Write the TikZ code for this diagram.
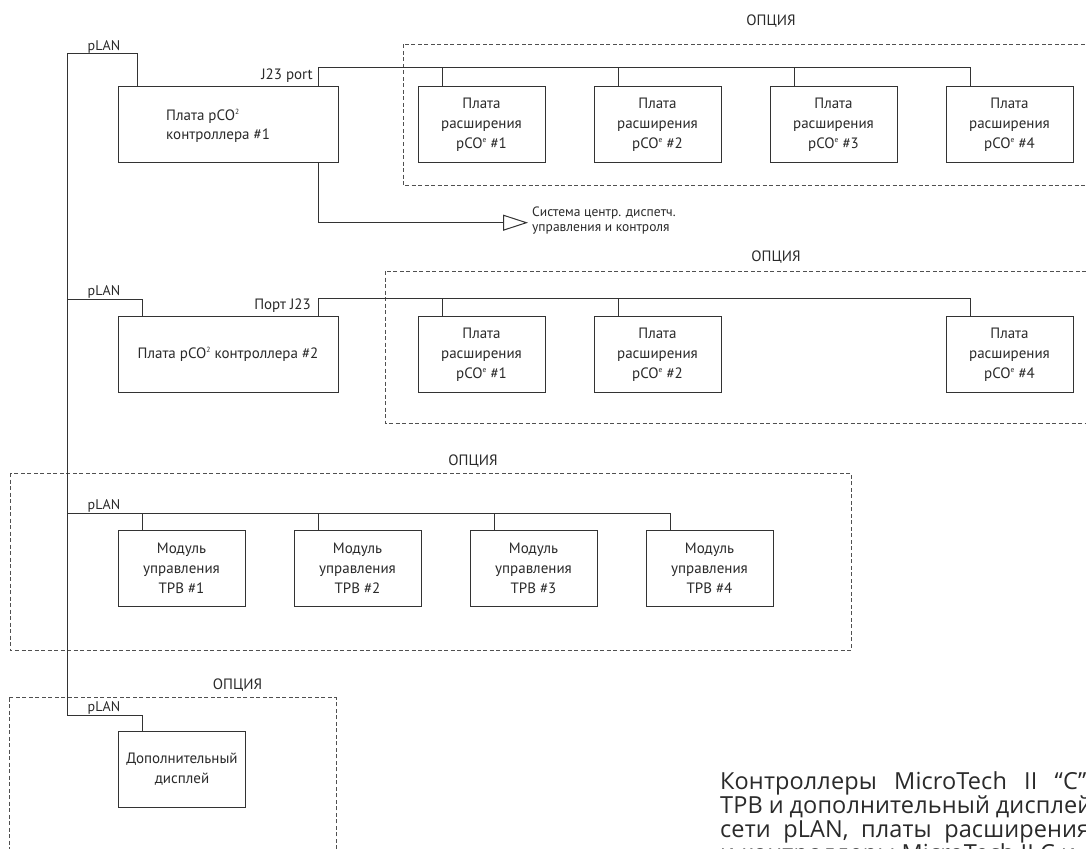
\documentclass[tikz,border=0pt]{standalone}
\usepackage{fontspec}
\setmainfont{PT Sans}
\newfontfamily\parafont[LetterSpace=0.5]{Open Sans}
\usetikzlibrary{arrows.meta}
\definecolor{ink}{HTML}{333333}
\definecolor{txt}{HTML}{2A2A2A}
\definecolor{dash}{HTML}{505050}
\newcommand{\sups}[1]{\raisebox{0.8ex}{\fontsize{7.5}{7.5}\selectfont #1}}
\begin{document}
\begin{tikzpicture}[x=1pt,y=-1pt,
  every node/.style={text=txt},
  boxtext/.style={font=\fontsize{15}{20}\selectfont},
  box/.style={draw=ink, line width=1pt, minimum width=127pt, minimum height=76pt, inner sep=0pt, align=center, boxtext},
  ctrl/.style={box, minimum width=220pt},
  wire/.style={draw=ink, line width=1pt},
  opt/.style={draw=dash, line width=0.8pt, dash pattern=on 4pt off 2.5pt},
  lbl/.style={inner sep=0pt, font=\fontsize{15}{18}\selectfont},
  plan/.style={inner sep=0pt, font=\fontsize{14}{16}\selectfont, anchor=base},
  optlbl/.style={inner sep=0pt, font=\fontsize{15}{16}\selectfont, anchor=base}
]
\useasboundingbox (0,0) rectangle (1086,848);
\clip (0,0) rectangle (1086,848);
\fill[white] (0,0) rectangle (1086,848);

% option frames
\draw[opt] (403,44.5) rectangle (1110,185.3);
\draw[opt] (385,271) rectangle (1110,423);
\draw[opt] (10,473) rectangle (851,650);
\draw[opt] (9,697.7) rectangle (336,870);
\node[optlbl] (o1) at (771,26) {ОПЦИЯ};
\node[optlbl] (o2) at (776,261.5) {ОПЦИЯ};
\node[optlbl] (o3) at (473,465) {ОПЦИЯ};
\node[optlbl] (o4) at (237.5,689.3) {ОПЦИЯ};

% controller 1
\node[ctrl] (c1) at (228,124.75) {};
\node[lbl, align=left, font=\fontsize{15}{18.7}\selectfont, anchor=west] (c1t) at (166,125.5) {Плата pCO\sups{2}\\контроллера \#1};
\node[box] (e11) at (481.5,124.5) {Плата\\расширения\\pCO\sups{e} \#1};
\node[box] (e12) at (657.5,124.5) {Плата\\расширения\\pCO\sups{e} \#2};
\node[box] (e13) at (833.5,124.5) {Плата\\расширения\\pCO\sups{e} \#3};
\node[box] (e14) at (1009.5,124.5) {Плата\\расширения\\pCO\sups{e} \#4};

% controller 2
\node[ctrl] (c2) at (228,354.5) {Плата pCO\sups{2} контроллера \#2};
\node[box] (e21) at (481.5,354.5) {Плата\\расширения\\pCO\sups{e} \#1};
\node[box] (e22) at (657.5,354.5) {Плата\\расширения\\pCO\sups{e} \#2};
\node[box] (e24) at (1009.5,354.5) {Плата\\расширения\\pCO\sups{e} \#4};

% TRV modules
\node[box] (t1) at (181.5,568) {Модуль\\управления\\ТРВ \#1};
\node[box] (t2) at (357.5,568) {Модуль\\управления\\ТРВ \#2};
\node[box] (t3) at (533.5,568) {Модуль\\управления\\ТРВ \#3};
\node[box] (t4) at (709.5,568) {Модуль\\управления\\ТРВ \#4};

% display
\node[box, minimum width=127.5pt, minimum height=75.5pt] (disp) at (182,769.5) {Дополнительный\\дисплей};

% coordinates of the buses
\coordinate (L0) at (67,54);
\coordinate (P1) at (137,54);
\coordinate (L2) at (67,299);
\coordinate (P2) at (142,299);
\coordinate (L3) at (67,513);
\coordinate (L4) at (67,715);
\coordinate (P4) at (142,715);
\coordinate (J1) at (318,68);
\coordinate (J2) at (318,298.5);
\coordinate (A1) at (318,222.7);
\coordinate (A2) at (528,222.7);
\foreach \x/\n in {442/1,618/2,794/3,970/4}{
  \coordinate (S1\n) at (\x,68);
  \coordinate (S2\n) at (\x,298.5);
}
\foreach \x/\n in {142/1,318/2,494/3,670/4}{
  \coordinate (T\n) at (\x,513);
}

% pLAN main bus
\draw[wire] (P1 |- c1.north) -- (P1) -- (L0) -- (L4) -- (P4) -- (P4 |- disp.north);
\draw[wire] (L2) -- (P2) -- (P2 |- c2.north);
\draw[wire] (L3) -- (T4) -- (T4 |- t4.north);
\foreach \n in {1,2,3}{ \draw[wire] (T\n) -- (T\n |- t\n.north); }

\node[plan] (pl1) at (104,50.5) {pLAN};
\node[plan] (pl2) at (104,295.5) {pLAN};
\node[plan] (pl3) at (104,509.5) {pLAN};
\node[plan] (pl4) at (104,711.5) {pLAN};

% J23 buses
\draw[wire] (J1 |- c1.north) -- (J1) -- (S14) -- (S14 |- e14.north);
\foreach \n in {1,2,3}{ \draw[wire] (S1\n) -- (S1\n |- e1\n.north); }
\draw[wire] (J2 |- c2.north) -- (J2) -- (S24) -- (S24 |- e24.north);
\draw[wire] (S21) -- (S21 |- e21.north);
\draw[wire] (S22) -- (S22 |- e22.north);
\node[lbl, anchor=base east] (j1l) at (313,79.3) {J23 port};
\node[lbl, anchor=base east] (j2l) at (311,309.3) {Порт J23};

% output to BMS
\draw[wire, -{Triangle[open, length=25pt, width=16pt, line width=1pt]}] (J1 |- c1.south) -- (A1) -- (A2);
\node[lbl, align=left, font=\fontsize{13.5}{14.5}\selectfont, anchor=west] (bms) at (532,220.5) {Система центр. диспетч.\\управления и контроля};

% paragraph (cut by the page edge)
\begin{scope}[every node/.style={text=txt, inner sep=0pt, anchor=base west, font=\parafont\fontsize{23.5}{24}\selectfont}]
\node (q1) at (720,789) {\makebox[366pt][s]{Контроллеры MicroTech II “C”}};
\node (q2) at (720,813) {\makebox[372pt][s]{ТРВ и дополнительный дисплей}};
\node (q3) at (720,837) {\makebox[370pt][s]{сети pLAN, платы расширения}};
\node (q4) at (720,861) {и контроллеры MicroTech II C и};
\end{scope}
\end{tikzpicture}
\end{document}
